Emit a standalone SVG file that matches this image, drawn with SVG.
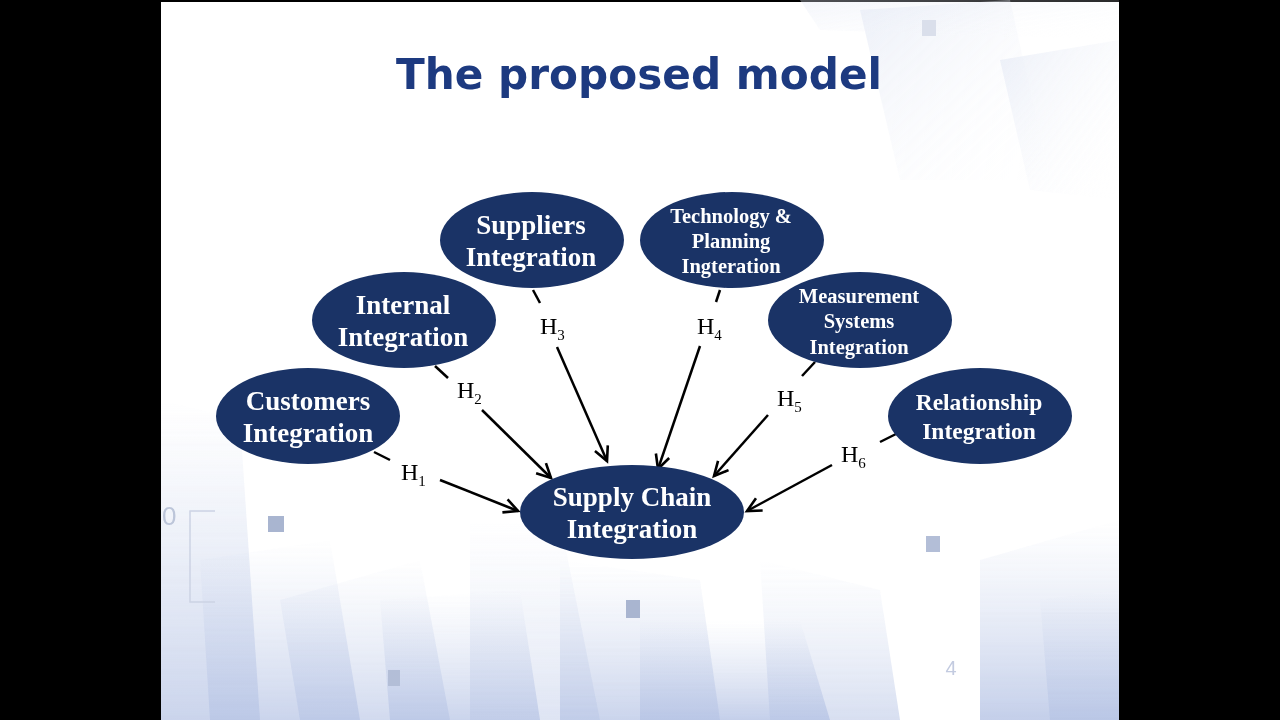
<svg xmlns="http://www.w3.org/2000/svg" width="1280" height="720" viewBox="0 0 1280 720">
<defs>
<style>
.node{fill:#1a3366;}
.nt{font-family:"Liberation Serif","Times New Roman",serif;font-weight:bold;fill:#ffffff;text-anchor:middle;}
.h{font-family:"Liberation Serif","Times New Roman",serif;font-size:24px;fill:#000;}
.sub{font-size:15px;}
.c{stroke:#000;stroke-width:2.5;fill:none;}
</style>
<marker id="arr" viewBox="0 0 18 18" refX="15" refY="9" markerWidth="18" markerHeight="18" markerUnits="userSpaceOnUse" orient="auto">
<path d="M1,2 L15,9 L1,16" fill="none" stroke="#000" stroke-width="2.6" stroke-linejoin="miter"/>
</marker>
<linearGradient id="fadeL" x1="0" y1="0" x2="0" y2="1">
<stop offset="0" stop-color="#c8d3ec" stop-opacity="0"/>
<stop offset="1" stop-color="#a9b9e0" stop-opacity="0.9"/>
</linearGradient>
<linearGradient id="fadeT" x1="0" y1="0" x2="1" y2="1">
<stop offset="0" stop-color="#dfe5f3" stop-opacity="0.7"/>
<stop offset="1" stop-color="#ffffff" stop-opacity="0"/>
</linearGradient>
</defs>
<rect x="0" y="0" width="1280" height="720" fill="#000"/>
<rect x="161" y="2" width="958" height="718" fill="#ffffff"/>
<g id="background" opacity="0.85">
<polygon points="161,400 240,420 260,720 161,720" fill="url(#fadeL)" opacity="0.8"/>
<polygon points="200,560 330,540 360,720 210,720" fill="url(#fadeL)" opacity="0.8"/>
<polygon points="280,600 420,560 450,720 300,720" fill="url(#fadeL)" opacity="0.7"/>
<polygon points="380,600 520,590 540,720 390,720" fill="url(#fadeL)" opacity="0.8"/>
<polygon points="470,520 560,520 600,720 470,720" fill="url(#fadeL)" opacity="0.5"/>
<polygon points="560,560 700,580 720,720 560,720" fill="url(#fadeL)" opacity="0.8"/>
<polygon points="640,620 800,620 830,720 640,720" fill="url(#fadeL)" opacity="0.9"/>
<polygon points="760,560 880,590 900,720 770,720" fill="url(#fadeL)" opacity="0.6"/>
<polygon points="980,560 1119,520 1119,720 980,720" fill="url(#fadeL)" opacity="0.9"/>
<polygon points="1040,600 1119,590 1119,720 1050,720" fill="url(#fadeL)" opacity="0.8"/>
<polygon points="860,10 1010,0 1050,180 900,180" fill="url(#fadeT)"/>
<polygon points="1000,60 1119,40 1119,200 1030,190" fill="url(#fadeT)"/>
<polygon points="800,0 1119,0 1119,40 820,30" fill="url(#fadeT)" opacity="0.6"/>
<rect x="268" y="516" width="16" height="16" fill="#9aa8c8"/>
<rect x="626" y="600" width="14" height="18" fill="#9aa8c8"/>
<rect x="926" y="536" width="14" height="16" fill="#a6b3d0"/>
<rect x="388" y="670" width="12" height="16" fill="#a6b3d0"/>
<rect x="922" y="20" width="14" height="16" fill="#d4dae8"/>
<text x="162" y="525" font-family="Liberation Sans,Arial,sans-serif" font-size="26" fill="#b0bbd3">0</text>
<polyline points="215,511 190,511 190,602 215,602" fill="none" stroke="#c4cce0" stroke-width="1.5"/>
</g>
<text id="title" x="639" y="89" font-family="DejaVu Sans,Verdana,sans-serif" font-weight="bold" font-size="43" fill="#1d3a80" text-anchor="middle" textLength="486" lengthAdjust="spacingAndGlyphs">The proposed model</text>
<g id="connectors">
<line class="c" x1="374" y1="452" x2="390" y2="460"/>
<line class="c" x1="440" y1="480" x2="518" y2="511" marker-end="url(#arr)"/>
<line class="c" x1="435" y1="366" x2="448" y2="378"/>
<line class="c" x1="482" y1="410" x2="551" y2="478" marker-end="url(#arr)"/>
<line class="c" x1="533" y1="290" x2="540" y2="303"/>
<line class="c" x1="557" y1="347" x2="607" y2="461" marker-end="url(#arr)"/>
<line class="c" x1="720" y1="290" x2="716" y2="302"/>
<line class="c" x1="700" y1="346" x2="658" y2="469" marker-end="url(#arr)"/>
<line class="c" x1="815" y1="362" x2="802" y2="376"/>
<line class="c" x1="768" y1="415" x2="714" y2="476" marker-end="url(#arr)"/>
<line class="c" x1="896" y1="434" x2="880" y2="442"/>
<line class="c" x1="832" y1="465" x2="747" y2="511" marker-end="url(#arr)"/>
<text class="h" x="401" y="480">H<tspan class="sub" dy="6">1</tspan></text>
<text class="h" x="457" y="398">H<tspan class="sub" dy="6">2</tspan></text>
<text class="h" x="540" y="334">H<tspan class="sub" dy="6">3</tspan></text>
<text class="h" x="697" y="334">H<tspan class="sub" dy="6">4</tspan></text>
<text class="h" x="777" y="406">H<tspan class="sub" dy="6">5</tspan></text>
<text class="h" x="841" y="462">H<tspan class="sub" dy="6">6</tspan></text>
</g>
<g id="n-suppliers">
<ellipse class="node" cx="532" cy="240" rx="92" ry="48"/>
<text class="nt" font-size="27" x="531" y="234">Suppliers</text>
<text class="nt" font-size="27" x="531" y="266">Integration</text>
</g>
<g id="n-technology">
<ellipse class="node" cx="732" cy="240" rx="92" ry="48"/>
<text class="nt" font-size="20.5" x="731" y="223">Technology &amp;</text>
<text class="nt" font-size="20.5" x="731" y="248">Planning</text>
<text class="nt" font-size="20.5" x="731" y="273">Ingteration</text>
</g>
<g id="n-internal">
<ellipse class="node" cx="404" cy="320" rx="92" ry="48"/>
<text class="nt" font-size="27" x="403" y="314">Internal</text>
<text class="nt" font-size="27" x="403" y="346">Integration</text>
</g>
<g id="n-measurement">
<ellipse class="node" cx="860" cy="320" rx="92" ry="48"/>
<text class="nt" font-size="20.5" x="859" y="303">Measurement</text>
<text class="nt" font-size="20.5" x="859" y="328">Systems</text>
<text class="nt" font-size="20.5" x="859" y="354">Integration</text>
</g>
<g id="n-customers">
<ellipse class="node" cx="308" cy="416" rx="92" ry="48"/>
<text class="nt" font-size="27" x="308" y="410">Customers</text>
<text class="nt" font-size="27" x="308" y="442">Integration</text>
</g>
<g id="n-relationship">
<ellipse class="node" cx="980" cy="416" rx="92" ry="48"/>
<text class="nt" font-size="23.5" x="979" y="410">Relationship</text>
<text class="nt" font-size="23.5" x="979" y="439">Integration</text>
</g>
<g id="n-scm">
<ellipse class="node" cx="632" cy="512" rx="112" ry="47"/>
<text class="nt" font-size="27" x="632" y="506">Supply Chain</text>
<text class="nt" font-size="27" x="632" y="538">Integration</text>
</g>
<text id="page" x="951" y="675" font-family="Liberation Sans,Arial,sans-serif" font-size="20" fill="#c3cbe0" text-anchor="middle">4</text>
</svg>
